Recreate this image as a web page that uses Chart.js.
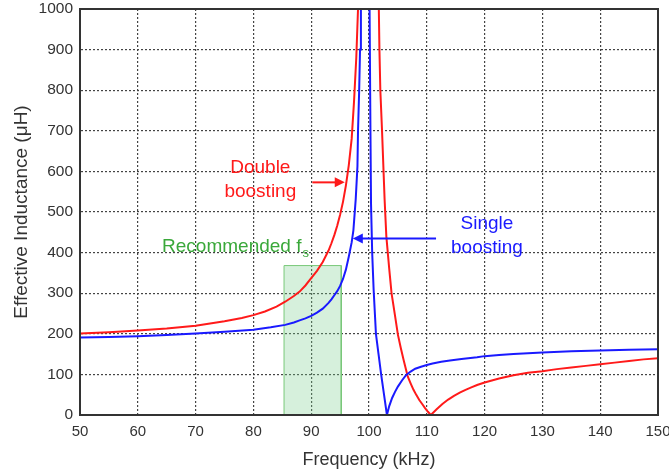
<!DOCTYPE html>
<html>
<head>
<meta charset="utf-8">
<script src="https://cdn.jsdelivr.net/npm/chart.js@4/dist/chart.umd.min.js"></script>
<style>
  html, body { margin: 0; padding: 0; background: #fff; }
</style>
</head>
<body>
<canvas id="chart" width="669" height="474"></canvas>
<script>
// frequency in kHz, inductance in uH (values above 1000 run off the top of the plot)
const redFreq = [50, 55, 60, 65, 70, 75, 78, 80, 82, 84, 85.5, 87, 88, 89, 90, 91, 92, 93, 93.5, 94, 94.5, 95, 95.5, 96, 96.5, 97,
  97.4, 97.8, 98.1, 98.3,
  101.5, 101.7, 101.8, 101.96, 102.25, 102.7, 103, 103.5, 103.9, 104.5, 105, 105.5, 106, 106.7, 107.2, 107.7, 108.2, 108.7,
  109.2, 109.7, 110.2, 110.7,
  111.7, 112.7, 113.7, 114.7, 115.7, 116.7, 117.7, 118.7, 120, 122.5, 125, 127.5, 130, 132.5, 135, 137.5, 140, 142.5, 145, 147.5, 150];
const redL = [201, 204, 208, 213, 220, 231, 239, 246, 255, 267, 279, 293, 304, 319, 337, 355, 377, 405, 423, 443, 466, 493, 525, 565, 615, 680,
  770, 880, 1000, 1150,
  1150, 1000, 903, 800, 702, 531, 440, 360, 300, 245, 198, 165, 135, 95, 78, 62, 49, 37,
  27, 17, 8, 0,
  14, 27, 38, 47, 55, 62, 68, 74, 80, 90, 98, 104, 108, 113, 117, 121, 125, 129, 133, 137, 140];

const blueFreq = [50, 55, 60, 65, 70, 75, 80, 83, 85.5, 87, 88, 89, 90, 91, 92, 93, 93.5, 94, 94.5, 95, 95.5, 96, 96.5, 97, 97.3,
  97.7, 98, 98.1, 98.3, 98.45, 98.6, 98.75,
  99.95, 100.1, 100.25, 100.35, 100.55, 100.8, 101.2, 101.65, 102.1, 102.6, 103.1,
  103.5, 104, 104.5, 105, 105.7, 106.4, 107.2, 108, 109, 110, 111, 112.5, 114, 116, 118.7, 120, 122.5, 125, 127.5, 130,
  135, 140, 145, 150];
const blueL = [191, 192, 194, 197, 201, 205, 210, 216, 222, 228, 233, 238, 244, 252, 262, 276, 285, 295, 305, 318, 335, 358, 390, 425, 455,
  531, 612, 700, 800, 900, 1000, 1150,
  1150, 1000, 700, 520, 400, 309, 200, 150, 100, 50, 0,
  22, 42, 57, 70, 85, 98, 107, 114, 119, 123, 127, 131, 134, 138, 142, 145, 148, 150, 152, 154,
  157, 159, 161, 162];

// recommended switching-frequency band
const bandFreq = [85.3, 85.3, 95.2, 95.2];
const bandL = [0, 368, 368, 0];

const xTicks = [50, 60, 70, 80, 90, 100, 110, 120, 130, 140, 150];
const yTicks = [0, 100, 200, 300, 400, 500, 600, 700, 800, 900, 1000];

const RED = "#ff1a1a";
const BLUE = "#1a1aff";
const GREEN = "#3aa83a";
const FONT = "'Liberation Sans', Arial, sans-serif";

// annotation anchors in data coordinates
const notes = [
  { text: "Double", x: 81.2, y: 596, color: RED, align: "center" },
  { text: "boosting", x: 81.2, y: 537, color: RED, align: "center" },
  { text: "Single", x: 120.4, y: 458, color: BLUE, align: "center" },
  { text: "boosting", x: 120.4, y: 399, color: BLUE, align: "center" },
];
const arrows = [
  { from: [90.2, 573], to: [95.8, 573], color: RED },
  { from: [111.6, 435], to: [97.2, 435], color: BLUE },
];
const bandNote = { text: "Recommended f", sub: "s", x: 64.2, y: 401 };

const toPoints = (xs, ys) => xs.map((x, i) => ({ x, y: ys[i] }));

const framePlugin = {
  id: "frame",
  afterDraw(chart) {
    const { ctx, chartArea: a } = chart;
    ctx.save();
    ctx.strokeStyle = "#333";
    ctx.lineWidth = 2;
    ctx.strokeRect(a.left, a.top, a.right - a.left, a.bottom - a.top);
    ctx.restore();
  }
};

const notesPlugin = {
  id: "notes",
  afterDatasetsDraw(chart) {
    const { ctx, scales } = chart;
    const px = v => scales.x.getPixelForValue(v);
    const py = v => scales.y.getPixelForValue(v);
    ctx.save();
    ctx.font = "19px " + FONT;
    ctx.textBaseline = "alphabetic";
    notes.forEach(n => {
      ctx.fillStyle = n.color;
      ctx.textAlign = n.align;
      ctx.fillText(n.text, px(n.x), py(n.y));
    });

    ctx.fillStyle = GREEN;
    ctx.textAlign = "left";
    ctx.fillText(bandNote.text, px(bandNote.x), py(bandNote.y));
    const w = ctx.measureText(bandNote.text).width;
    ctx.font = "13px " + FONT;
    ctx.fillText(bandNote.sub, px(bandNote.x) + w + 1, py(bandNote.y) + 5);

    arrows.forEach(a => {
      const x1 = px(a.from[0]), y1 = py(a.from[1]);
      const x2 = px(a.to[0]), y2 = py(a.to[1]);
      const dir = Math.sign(x2 - x1);
      ctx.strokeStyle = a.color;
      ctx.fillStyle = a.color;
      ctx.lineWidth = 2;
      ctx.beginPath();
      ctx.moveTo(x1, y1);
      ctx.lineTo(x2 - dir * 8, y2);
      ctx.stroke();
      ctx.beginPath();
      ctx.moveTo(x2, y2);
      ctx.lineTo(x2 - dir * 10, y2 - 5);
      ctx.lineTo(x2 - dir * 10, y2 + 5);
      ctx.closePath();
      ctx.fill();
    });
    ctx.restore();
  }
};

new Chart(document.getElementById("chart"), {
  type: "line",
  data: {
    datasets: [
      {
        data: toPoints(redFreq, redL),
        borderColor: RED,
        borderWidth: 2,
        pointRadius: 0,
        tension: 0,
        fill: false,
        order: 2
      },
      {
        data: toPoints(blueFreq, blueL),
        borderColor: BLUE,
        borderWidth: 2,
        pointRadius: 0,
        tension: 0,
        fill: false,
        order: 1
      },
      {
        data: toPoints(bandFreq, bandL),
        borderColor: "#78c878",
        backgroundColor: "rgba(120, 205, 140, 0.3)",
        borderWidth: 1,
        pointRadius: 0,
        tension: 0,
        fill: "origin",
        order: 3
      }
    ]
  },
  options: {
    responsive: false,
    animation: false,
    layout: { padding: { top: 9, right: 0, left: 0, bottom: 0 } },
    plugins: { legend: { display: false }, tooltip: { enabled: false } },
    scales: {
      x: {
        type: "linear",
        min: 50,
        max: 150,
        afterBuildTicks: s => { s.ticks = xTicks.map(v => ({ value: v })); },
        afterFit: s => { s.height = 59; s.paddingLeft = 0; s.paddingRight = 11; },
        ticks: { color: "#333", font: { family: FONT, size: 15 }, padding: 8, maxRotation: 0, callback: v => String(v) },
        grid: { color: "#444", lineWidth: 1.2, drawTicks: false },
        border: { display: true, color: "#333", width: 2, dash: [2, 2] },
        title: { display: true, text: "Frequency (kHz)", color: "#333", font: { family: FONT, size: 18 }, padding: { top: 0, bottom: 3 } }
      },
      y: {
        min: 0,
        max: 1000,
        afterBuildTicks: s => { s.ticks = yTicks.map(v => ({ value: v })); },
        afterFit: s => { s.width = 80; s.paddingTop = 0; s.paddingBottom = 0; },
        ticks: { color: "#333", font: { family: FONT, size: 15.5 }, padding: 7, callback: v => String(v) },
        grid: { color: "#444", lineWidth: 1.2, drawTicks: false },
        border: { display: true, color: "#333", width: 2, dash: [2, 2] },
        title: { display: true, text: "Effective Inductance (\u03bcH)", color: "#333", font: { family: FONT, size: 19 }, padding: { top: 10, bottom: 0 } }
      }
    }
  },
  plugins: [framePlugin, notesPlugin]
});
</script>
</body>
</html>
